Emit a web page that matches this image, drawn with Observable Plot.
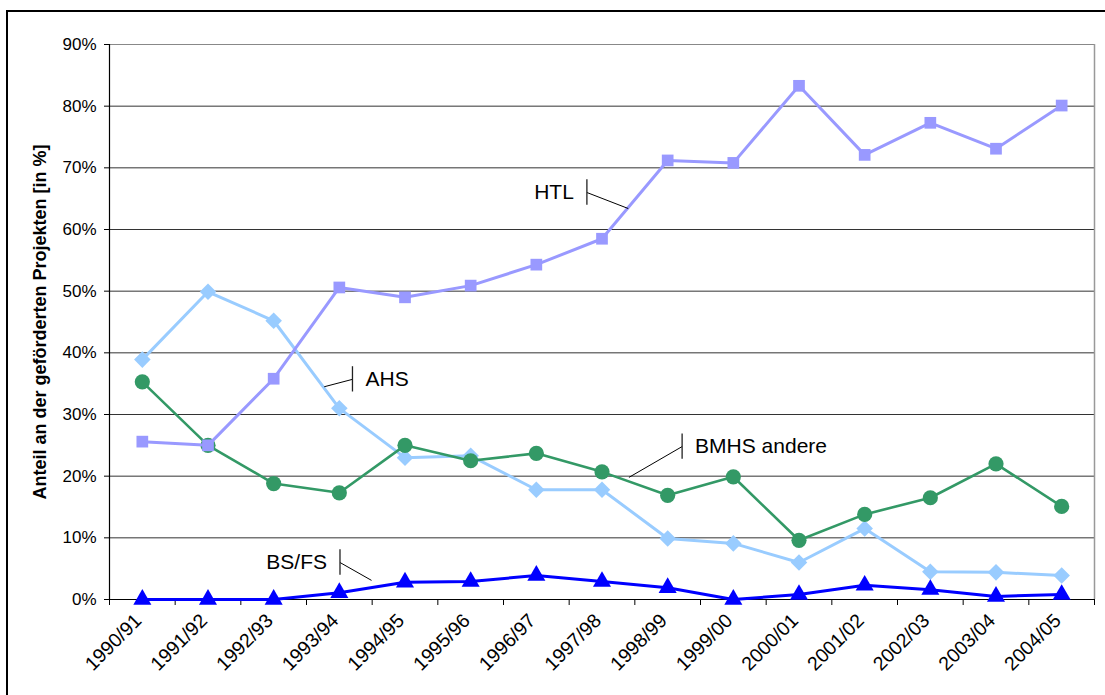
<!DOCTYPE html>
<html>
<head>
<meta charset="utf-8">
<script src="https://cdn.jsdelivr.net/npm/d3@7"></script>
<script src="https://cdn.jsdelivr.net/npm/@observablehq/plot@0.6"></script>
<style>
  html, body { margin: 0; padding: 0; background: #fff; overflow: hidden; }
  #wrap { position: relative; width: 1105px; height: 695px; }
  #frame { position: absolute; left: 6px; top: 10px; width: 1200px; height: 800px;
           border: 2px solid #000; pointer-events: none; }
  svg { display: block; font-family: "Liberation Sans", Arial, sans-serif; }
</style>
</head>
<body>
<div id="wrap"><div id="frame"></div></div>
<script>
const categories = ["1990/91","1991/92","1992/93","1993/94","1994/95","1995/96","1996/97","1997/98","1998/99","1999/00","2000/01","2001/02","2002/03","2003/04","2004/05"];
const seriesNames = ["AHS", "BMHS andere", "HTL", "BS/FS"];
const htl  = [25.6, 25.0, 35.8, 50.6, 49.0, 50.9, 54.3, 58.5, 71.2, 70.8, 83.3, 72.1, 77.3, 73.1, 80.1];
const ahs  = [38.9, 49.9, 45.2, 31.0, 23.0, 23.3, 17.8, 17.8, 9.9, 9.1, 6.0, 11.5, 4.5, 4.4, 3.9];
const bmhs = [35.3, 25.0, 18.8, 17.3, 25.0, 22.5, 23.7, 20.7, 16.9, 19.9, 9.6, 13.8, 16.5, 22.0, 15.1];
const bsfs = [0, 0, 0, 1.1, 2.8, 2.9, 3.9, 2.9, 1.9, 0, 0.8, 2.3, 1.6, 0.5, 0.8];
const yTicks = [0, 10, 20, 30, 40, 50, 60, 70, 80, 90];
const yTitle = "Anteil an der geförderten Projekten [in %]";

// label callouts (anchor of bar, end of leader line) in data space
const callouts = [
  {name: "HTL",         bx: 6.77, by: 66.0, ex: 7.40, ey: 63.4, side: "left"},
  {name: "AHS",         bx: 3.20, by: 35.7, ex: 2.77, ey: 34.5, side: "right"},
  {name: "BMHS andere", bx: 8.22, by: 24.8, ex: 7.41, ey: 19.8, side: "right"},
  {name: "BS/FS",       bx: 3.01, by: 6.0,  ex: 3.49, ey: 3.1,  side: "left"}
];

const valuesBy = {"AHS": ahs, "BMHS andere": bmhs, "HTL": htl, "BS/FS": bsfs};
const rows = name => valuesBy[name].map((v, i) => ({i, v, cat: categories[i]}));

const style = {
  "AHS":         {color: "#99CCFF", width: 3,   symbol: "square",   r: 6.6, rotate: 45},
  "BMHS andere": {color: "#339966", width: 2.6, symbol: "circle",   r: 7.6, rotate: 0},
  "HTL":         {color: "#9999FF", width: 3,   symbol: "square",   r: 6.6, rotate: 0},
  "BS/FS":       {color: "#0000FF", width: 3,   symbol: "triangle", r: 6.7, rotate: 0}
};

const seriesMarks = seriesNames.flatMap(name => {
  const s = style[name];
  const d = rows(name);
  return [
    Plot.line(d, {x: "i", y: "v", stroke: s.color, strokeWidth: s.width}),
    Plot.dot(d, {x: "i", y: "v", symbol: s.symbol, r: s.r, rotate: s.rotate, fill: s.color, stroke: "none"})
  ];
});

const boundaries = d3.range(-0.5, categories.length, 1);

const chart = Plot.plot({
  width: 1105,
  height: 695,
  marginLeft: 109,
  marginRight: 11,
  marginTop: 44,
  marginBottom: 96,
  style: {fontFamily: "Liberation Sans, Arial, sans-serif", background: "transparent", overflow: "visible"},
  x: {domain: [-0.5, categories.length - 0.5], axis: null},
  y: {domain: [0, 90], axis: null},
  marks: [
    Plot.ruleY(yTicks.filter(t => t > 0 && t < 90), {y: d => d, stroke: "#333", strokeWidth: 1}),
    Plot.ruleY([90], {stroke: "#888", strokeWidth: 1.2}),
    Plot.ruleX([categories.length - 0.5], {stroke: "#999", strokeWidth: 1.5}),
    Plot.axisY({ticks: yTicks, tickFormat: d => d + "%", tickSize: 5, tickPadding: 8, fontSize: 17, label: null, color: "#000"}),
    Plot.axisX({ticks: boundaries, tickFormat: () => "", tickSize: 6, label: null}),
    Plot.axisX({ticks: d3.range(categories.length), tickFormat: i => categories[i], tickSize: 0, tickPadding: 14, dx: -4, dy: 4, tickRotate: -45, fontSize: 19.5, label: null, color: "#000"}),
    Plot.ruleX([-0.5], {stroke: "#000", strokeWidth: 1.2}),
    Plot.ruleY([0], {stroke: "#000", strokeWidth: 1.2}),
    Plot.text([yTitle], {frameAnchor: "left", textAnchor: "middle", lineAnchor: "middle", rotate: -90, dx: -69, fontWeight: "bold", fontSize: 18, fill: "#000"}),
    ...seriesMarks,
    Plot.link(callouts, {x1: "bx", y1: "by", x2: "ex", y2: "ey", stroke: "#000", strokeWidth: 1}),
    Plot.ruleX(callouts, {x: "bx", y1: d => d.by - 2.05, y2: d => d.by + 2.05, stroke: "#222", strokeWidth: 1.3}),
    Plot.text(callouts.filter(d => d.side === "right"), {x: "bx", y: "by", text: "name", textAnchor: "start", dx: 13, fontSize: 21, fill: "#000"}),
    Plot.text(callouts.filter(d => d.side === "left"), {x: "bx", y: "by", text: "name", textAnchor: "end", dx: -13, fontSize: 21, fill: "#000"})
  ]
});
document.getElementById("wrap").prepend(chart);
</script>
</body>
</html>
